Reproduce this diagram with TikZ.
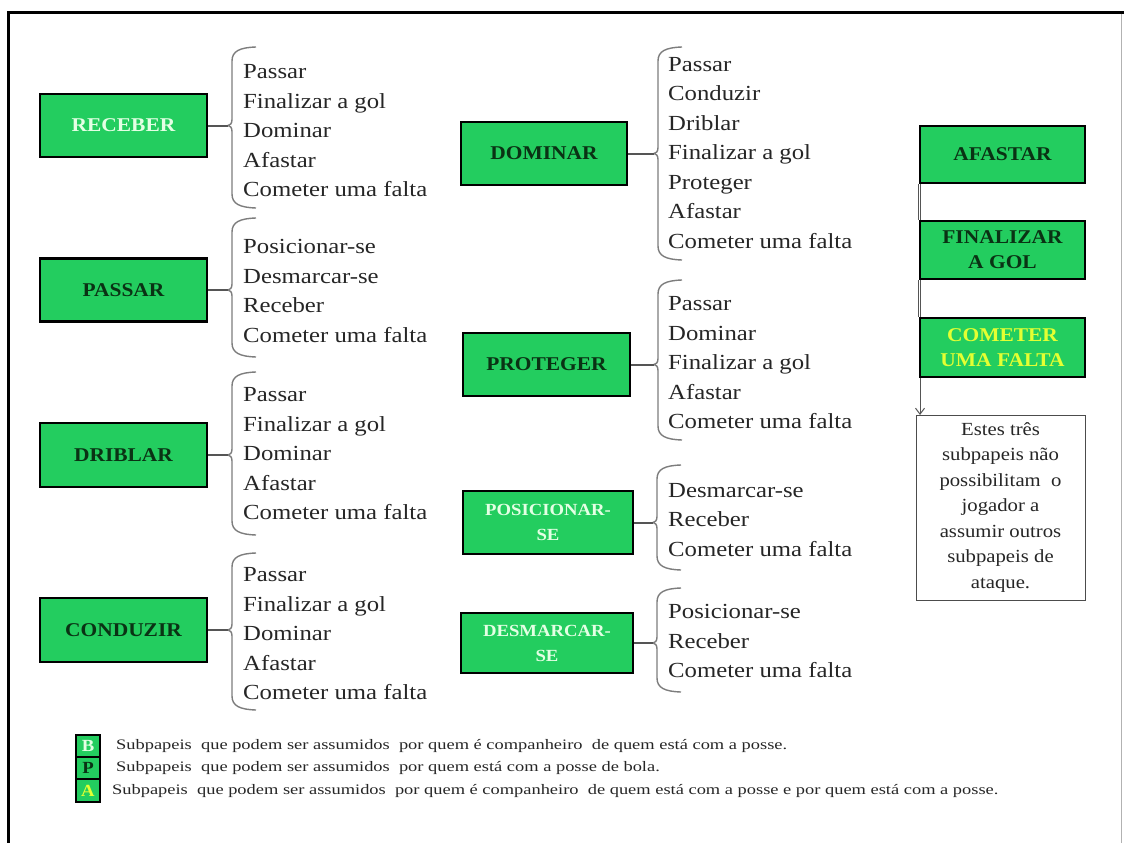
\documentclass[tikz,border=0pt]{standalone}
\usepackage{fontspec}
\setmainfont{Liberation Serif}
\newfontfamily\itemfont[FakeStretch=1.15]{Liberation Serif}
\newfontfamily\labelfont[FakeStretch=1.1]{Liberation Serif}
\newfontfamily\notefont[FakeStretch=1.12]{Liberation Serif}
\newfontfamily\keyfont[FakeStretch=1.27]{Liberation Serif}
\usetikzlibrary{arrows.meta,calc}

\definecolor{boxgreen}{RGB}{35,205,95}
\definecolor{darklbl}{RGB}{10,50,20}
\definecolor{lightlbl}{RGB}{228,255,228}
\definecolor{yellowlbl}{RGB}{228,255,50}
\definecolor{bracegray}{RGB}{125,125,125}
\definecolor{conngray}{RGB}{85,85,85}

\tikzset{
  rolebox/.style={draw=black, line width=2.5pt, fill=boxgreen, align=center,
    inner sep=0pt, font=\labelfont\bfseries\fontsize{19.5}{25}\selectfont},
  smallrole/.style={rolebox, font=\labelfont\bfseries\fontsize{17}{25}\selectfont},
  dark/.style={text=darklbl},
  light/.style={text=lightlbl},
  yell/.style={text=yellowlbl},
  items/.style={anchor=west, align=left, inner sep=0pt,
    font=\itemfont\fontsize{21.5}{29.5}\selectfont, text=black!85},
  bracestyle/.style={draw=bracegray, line width=1.4pt},
  conn/.style={draw=conngray, line width=2pt},
  notebox/.style={draw=black!70, line width=1pt, fill=white, align=center,
    inner sep=0pt, font=\notefont\fontsize{18.5}{25.5}\selectfont, text=black!85},
  keybox/.style={draw=black, line width=2pt, fill=boxgreen, inner sep=0pt,
    minimum width=24, minimum height=22, font=\labelfont\bfseries\fontsize{17}{17}\selectfont},
  keytext/.style={anchor=west, inner sep=0pt, font=\keyfont\fontsize{14.5}{16}\selectfont, text=black!85}
}

% left curly brace: #1 x of its spine, #2 top, #3 bottom, #4 tip height, #5 tip name
\newcommand\rolebrace[5]{%
  \coordinate (#5) at ({#1-4},#4);
  \draw[bracestyle] ({#1+24},#2) .. controls ({#1+8},{#2+0.5}) and (#1,{#2+4}) .. (#1,{#2+14})
    -- (#1,{#4-6}) .. controls (#1,{#4-2}) and ({#1-2},#4) .. (#5)
    .. controls ({#1-2},#4) and (#1,{#4+2}) .. (#1,{#4+6})
    -- (#1,{#3-14}) .. controls (#1,{#3-4}) and ({#1+8},{#3-0.5}) .. ({#1+24},#3);}

\begin{document}
\begin{tikzpicture}[x=1pt,y=-1pt]
\useasboundingbox (0,0) rectangle (1124,843);
\fill[white] (0,0) rectangle (1124,843);

% page frame
\draw[black, line width=3.5pt] (8.5,843) -- (8.5,12.5) -- (1124,12.5);
\draw[black!30, line width=1.5pt] (1121.5,14) -- (1121.5,843);

% ---- left column ----
\node[rolebox, light, minimum width=167, minimum height=63] (receber) at (123.5,125.5) {RECEBER};
\rolebrace{232}{47}{208}{125.5}{receber-tip}
\draw[conn] (receber.east) -- (receber-tip);
\node[items] (receber-list) at (243,131) {Passar\\Finalizar a gol\\Dominar\\Afastar\\Cometer uma falta};

\node[rolebox, dark, minimum width=167, minimum height=63] (passar) at (123.5,290) {PASSAR};
\rolebrace{232}{218}{357}{290}{passar-tip}
\draw[conn] (passar.east) -- (passar-tip);
\node[items] (passar-list) at (243,291) {Posicionar-se\\Desmarcar-se\\Receber\\Cometer uma falta};

\node[rolebox, dark, minimum width=167, minimum height=64] (driblar) at (123.5,455) {DRIBLAR};
\rolebrace{232}{372}{535}{455}{driblar-tip}
\draw[conn] (driblar.east) -- (driblar-tip);
\node[items] (driblar-list) at (243,454) {Passar\\Finalizar a gol\\Dominar\\Afastar\\Cometer uma falta};

\node[rolebox, dark, minimum width=167, minimum height=64] (conduzir) at (123.5,630) {CONDUZIR};
\rolebrace{232}{553}{710}{630}{conduzir-tip}
\draw[conn] (conduzir.east) -- (conduzir-tip);
\node[items] (conduzir-list) at (243,634) {Passar\\Finalizar a gol\\Dominar\\Afastar\\Cometer uma falta};

% ---- middle column ----
\node[rolebox, dark, minimum width=166, minimum height=63] (dominar) at (544,153.5) {DOMINAR};
\rolebrace{658}{47}{260}{153.5}{dominar-tip}
\draw[conn] (dominar.east) -- (dominar-tip);
\node[items] (dominar-list) at (668,153) {Passar\\Conduzir\\Driblar\\Finalizar a gol\\Proteger\\Afastar\\Cometer uma falta};

\node[rolebox, dark, minimum width=167, minimum height=63] (proteger) at (546.5,364.5) {PROTEGER};
\rolebrace{658}{280}{440}{364.5}{proteger-tip}
\draw[conn] (proteger.east) -- (proteger-tip);
\node[items] (proteger-list) at (668,363) {Passar\\Dominar\\Finalizar a gol\\Afastar\\Cometer uma falta};

\node[smallrole, light, minimum width=170, minimum height=63] (posicionar) at (548,522.5) {POSICIONAR-\\SE};
\rolebrace{657}{465}{570}{522.5}{posicionar-tip}
\draw[conn] (posicionar.east) -- (posicionar-tip);
\node[items] (posicionar-list) at (668,520) {Desmarcar-se\\Receber\\Cometer uma falta};

\node[smallrole, light, minimum width=172, minimum height=60] (desmarcar) at (547,643) {DESMARCAR-\\SE};
\rolebrace{657}{588}{692}{643}{desmarcar-tip}
\draw[conn] (desmarcar.east) -- (desmarcar-tip);
\node[items] (desmarcar-list) at (668,641) {Posicionar-se\\Receber\\Cometer uma falta};

% ---- right column ----
\node[notebox, minimum width=169, minimum height=185] (nota) at (1000.5,507.5)
  {Estes três\\subpapeis não\\possibilitam\ \ o\\jogador a\\assumir outros\\subpapeis de\\ataque.};
\draw[conngray, line width=1pt, -{Straight Barb[length=6pt,width=9pt]}]
  (920,183) -- (920,415);
\node[rolebox, dark, minimum width=165, minimum height=57] (afastar) at (1002.5,154.5) {AFASTAR};
\node[rolebox, dark, minimum width=165, minimum height=58] (finalizar) at (1002.5,250) {FINALIZAR\\A GOL};
\node[rolebox, yell, minimum width=165, minimum height=59] (cometer) at (1002.5,347.5) {COMETER\\UMA FALTA};
\draw[conngray, line width=1pt] (afastar.south west) -- (finalizar.north west)
  (finalizar.south west) -- (cometer.north west);

% ---- key ----
\node[keybox, light] (keyb) at (88,746) {B};
\node[keybox, dark] (keyp) at (88,768) {P};
\node[keybox, yell, minimum height=23] (keya) at (88,790.5) {A};
\node[keytext] (keyb-text) at (116,746) {Subpapeis\ \ que podem ser assumidos\ \ por quem é companheiro\ \ de quem está com a posse.};
\node[keytext] (keyp-text) at (116,768) {Subpapeis\ \ que podem ser assumidos\ \ por quem está com a posse de bola.};
\node[keytext] (keya-text) at (112,791) {Subpapeis\ \ que podem ser assumidos\ \ por quem é companheiro\ \ de quem está com a posse e por quem está com a posse.};
\end{tikzpicture}
\end{document}
